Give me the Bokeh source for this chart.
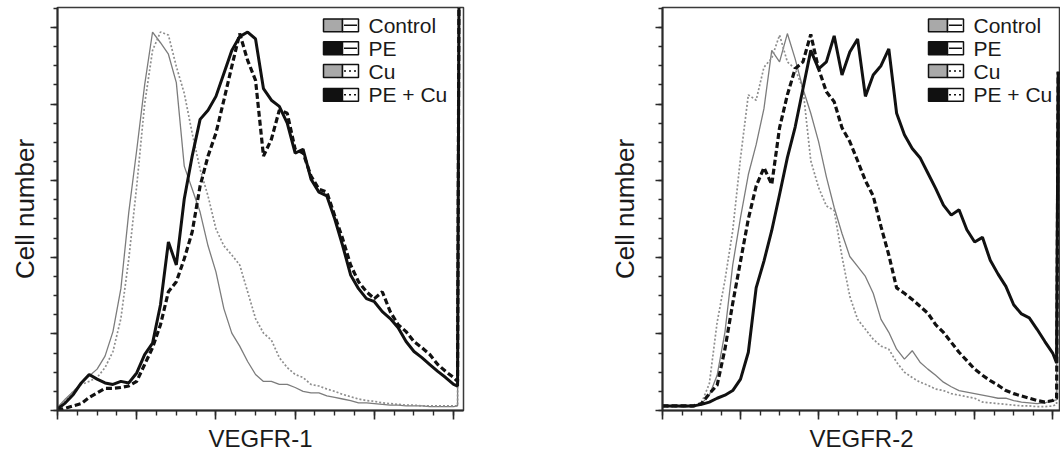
from bokeh.plotting import figure
from bokeh.layouts import row
from bokeh.models import SingleIntervalTicker, Label, Range1d, CustomLabelingPolicy
from bokeh.embed import file_html
from bokeh.resources import INLINE

# ---------------- data ----------------
CHANNELS = [0, 20, 40, 60, 80, 100, 120, 140, 160, 180,
            200, 220, 240, 260, 280, 300, 320, 340, 360, 380,
            400, 420, 440, 460, 480, 500, 520, 540, 560, 580,
            600, 620, 640, 660, 680, 700, 720, 740, 760, 780,
            800, 820, 840, 860, 880, 900, 920, 940, 960, 980,
            1000, 1010, 1014]

SERIES = ["Control", "PE", "Cu", "PE + Cu"]

# VEGFR-1 panel
L_CONTROL = [4, 15, 25, 36, 45, 54, 71, 103, 159, 259,
             340, 425, 494, 480, 465, 428, 319, 289, 259, 215,
             181, 133, 101, 84, 64, 47, 38, 38, 34, 34,
             30, 25, 23, 23, 19, 17, 15, 13, 10, 10,
             9, 8, 7, 7, 6, 6, 6, 5, 5, 5,
             5, 6, 600]
L_PE = [2, 10, 21, 36, 47, 41, 36, 34, 38, 36,
        49, 73, 88, 138, 220, 190, 276, 332, 380, 392,
        410, 440, 470, 488, 494, 485, 420, 405, 397, 375,
        336, 341, 302, 285, 280, 250, 215, 177, 159, 146,
        142, 129, 120, 108, 90, 77, 69, 60, 51, 43,
        34, 32, 600]
L_CU = [4, 13, 25, 34, 38, 43, 56, 77, 120, 198,
        293, 400, 470, 494, 490, 449, 414, 362, 315, 280,
        237, 215, 203, 190, 155, 120, 101, 92, 69, 56,
        47, 43, 34, 32, 28, 25, 21, 18, 15, 13,
        12, 10, 9, 8, 7, 7, 6, 6, 6, 6,
        6, 6, 600]
L_PECU = [0, 3, 6, 9, 17, 23, 29, 29, 30, 32,
          38, 60, 82, 112, 155, 168, 198, 233, 293, 332,
          362, 405, 449, 492, 457, 431, 332, 354, 392, 388,
          341, 336, 306, 289, 285, 254, 224, 190, 168, 155,
          146, 155, 129, 112, 103, 90, 82, 73, 60, 51,
          43, 38, 600]

# VEGFR-2 panel
R_CONTROL = [6, 6, 6, 6, 6, 9, 20, 46, 102, 190,
             252, 308, 347, 394, 470, 455, 492, 459, 420, 388,
             351, 305, 265, 231, 201, 188, 175, 153, 119, 102,
             80, 67, 78, 63, 54, 46, 37, 31, 26, 24,
             22, 20, 18, 16, 16, 13, 11, 10, 9, 10,
             13, 14, 442]
R_PE = [6, 6, 6, 6, 6, 8, 11, 16, 20, 26,
        41, 76, 160, 195, 235, 282, 330, 370, 420, 470,
        446, 455, 489, 438, 468, 485, 410, 438, 450, 472,
        388, 360, 342, 330, 310, 290, 268, 255, 262, 236,
        220, 226, 196, 178, 162, 138, 126, 121, 106, 90,
        75, 62, 442]
R_CU = [5, 5, 5, 5, 5, 10, 35, 115, 170, 235,
        330, 412, 405, 448, 460, 490, 455, 446, 420, 326,
        291, 267, 261, 201, 149, 119, 106, 93, 84, 80,
        63, 50, 43, 37, 33, 28, 26, 22, 20, 18,
        16, 11, 10, 9, 8, 7, 6, 6, 5, 5,
        6, 8, 442]
R_PECU = [6, 6, 6, 6, 6, 9, 22, 33, 80, 140,
          195, 250, 293, 317, 295, 369, 412, 446, 455, 491,
          446, 416, 403, 369, 351, 326, 300, 280, 240, 203,
          160, 153, 145, 136, 127, 112, 102, 89, 76, 65,
          54, 46, 39, 33, 26, 22, 19, 16, 13, 11,
          13, 16, 442]

X_LABELS = ["VEGFR-1", "VEGFR-2"]
Y_LABEL = "Cell number"

# ---------------- styles ----------------
STYLE = {
    "Control": dict(line_color="#7c7c7c", line_width=1.3),
    "Cu": dict(line_color="#8e8e8e", line_width=1.7, line_dash="2 2"),
    "PE": dict(line_color="#111111", line_width=3.0),
    "PE + Cu": dict(line_color="#111111", line_width=3.2, line_dash="6 3"),
}
LEG_FILL = {"Control": "#a9a9a9", "PE": "#111111", "Cu": "#a9a9a9", "PE + Cu": "#111111"}
LEG_DASH = {"Control": "solid", "PE": "solid", "Cu": "2 3", "PE + Cu": "2 3"}
DRAW_ORDER = ["Control", "Cu", "PE", "PE + Cu"]

Y_END = 526
FRAME_H = 406
FONT = "Liberation Sans"

# the reference shows tick marks only, no tick labels
NO_LABELS = CustomLabelingPolicy(code="""
const all = Array.from(indices);
if (typeof indices.unset === "function") {
  for (const i of all) { indices.unset(i); }
}
return indices;
""")


def make_panel(xlabel, data, x_end, b_left, b_right, frame_w, y_standoff):
    p = figure(width=b_left + frame_w + b_right, height=454,
               x_range=Range1d(0, x_end), y_range=Range1d(0, Y_END),
               output_backend="svg", toolbar_location=None,
               min_border_left=b_left, min_border_right=b_right,
               min_border_top=7, min_border_bottom=41)
    p.xgrid.visible = False
    p.ygrid.visible = False
    p.outline_line_color = "#3a3a3a"
    p.outline_line_width = 1.5
    p.background_fill_color = "white"
    p.border_fill_color = "white"

    p.xaxis.ticker = SingleIntervalTicker(interval=200, num_minor_ticks=4)
    p.yaxis.ticker = SingleIntervalTicker(interval=100, num_minor_ticks=4)
    for ax in (p.xaxis[0], p.yaxis[0]):
        ax.major_label_policy = NO_LABELS
        ax.major_label_text_font_size = "0px"
        ax.major_label_standoff = 0
        ax.major_tick_in = 0
        ax.minor_tick_in = 0
        ax.axis_line_width = 2
        ax.axis_line_color = "#2a2a2a"
        ax.major_tick_line_color = "#2a2a2a"
        ax.minor_tick_line_color = "#2a2a2a"
        ax.major_tick_line_width = 1.6
        ax.minor_tick_line_width = 1.4
        ax.axis_label_text_font = FONT
        ax.axis_label_text_font_style = "normal"
        ax.axis_label_text_color = "#1a1a1a"
    p.xaxis.major_tick_out = 9
    p.xaxis.minor_tick_out = 5
    p.yaxis.major_tick_out = 7
    p.yaxis.minor_tick_out = 4
    p.xaxis.axis_label = xlabel
    p.xaxis.axis_label_text_font_size = "24px"
    p.xaxis.axis_label_standoff = 5
    p.yaxis.axis_label = Y_LABEL
    p.yaxis.axis_label_text_font_size = "26px"
    p.yaxis.axis_label_standoff = y_standoff

    for name in DRAW_ORDER:
        p.line(CHANNELS, data[name], **STYLE[name])

    # legend (FlowJo-like icons), positioned in pixel offsets from the frame
    sx = x_end / frame_w
    sy = Y_END / FRAME_H

    def xp(dx):
        return dx * sx

    def yp(dy):
        return Y_END - dy * sy

    rows = [18, 41, 64, 88]
    x0, x1, x2 = xp(266), xp(285), xp(301)
    for name, r in zip(SERIES, rows):
        top, bot = yp(r - 6.5), yp(r + 6.5)
        p.quad(left=x0, right=x1, top=top, bottom=bot,
               fill_color=LEG_FILL[name], line_color="#111111", line_width=1.5)
        p.quad(left=x1, right=x2, top=top, bottom=bot,
               fill_color="white", line_color="#111111", line_width=1.5)
        p.segment(x0=x1 + xp(1.5), y0=yp(r), x1=x2 - xp(1.5), y1=yp(r),
                  line_color="#111111", line_width=1.5, line_dash=LEG_DASH[name])
        p.add_layout(Label(x=xp(311), y=yp(r), text=name,
                           text_baseline="middle", text_align="left",
                           text_font=FONT, text_font_size="21px",
                           text_color="#1a1a1a"))
    return p


left_data = {"Control": L_CONTROL, "PE": L_PE, "Cu": L_CU, "PE + Cu": L_PECU}
right_data = {"Control": R_CONTROL, "PE": R_PE, "Cu": R_CU, "PE + Cu": R_PECU}

p1 = make_panel(X_LABELS[0], left_data, 1025, 57, 67, 406, 11)
p2 = make_panel(X_LABELS[1], right_data, 1020, 132, 0, 398, 16)

layout = row(p1, p2, spacing=0)
open("out.html", "w").write(file_html(layout, INLINE))
